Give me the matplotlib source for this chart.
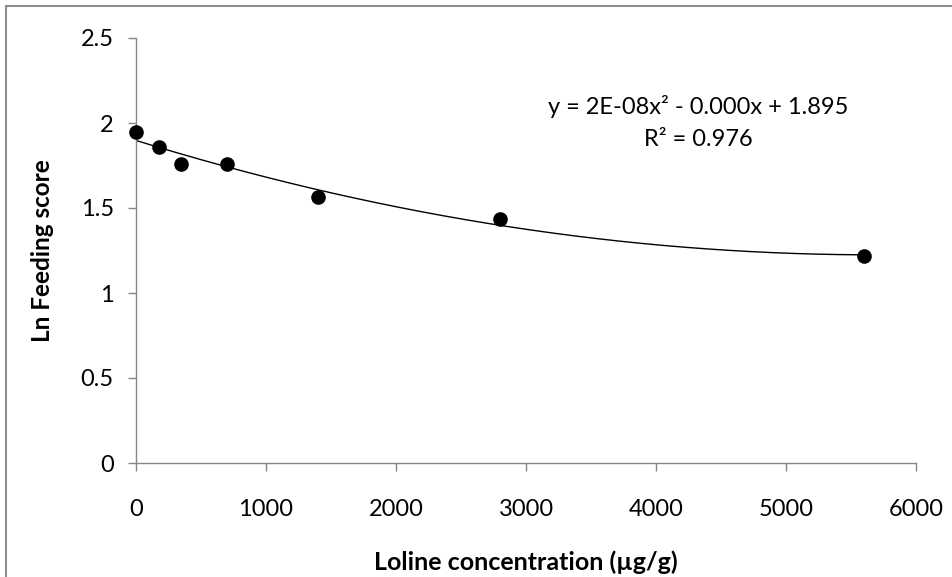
import numpy as np
import matplotlib
matplotlib.use("Agg")
import matplotlib.pyplot as plt
from matplotlib.patches import Rectangle

plt.rcParams['font.family'] = ['Lato', 'DejaVu Sans']

concentration = [0, 175, 350, 700, 1400, 2800, 5600]
ln_feeding = [1.947, 1.859, 1.759, 1.759, 1.567, 1.434, 1.218]
x_ticks = [0, 1000, 2000, 3000, 4000, 5000, 6000]
y_ticks = [0, 0.5, 1, 1.5, 2, 2.5]
equation_text = "y = 2E-08x² - 0.000x + 1.895"
r2_text = "R² = 0.976"

fig = plt.figure(figsize=(9.53, 5.77), dpi=100)
W, H = 953, 577
ax = fig.add_axes([136 / W, 1 - 463 / H, (916 - 136) / W, (463 - 38) / H])

# Outer frame (left and top edges visible)
fig.patches.append(Rectangle((6 / W, -0.1), 1.2, 1 - 6 / H + 0.1, transform=fig.transFigure,
                             fill=False, edgecolor='#8c8c8c', linewidth=1.5))

coef = np.polyfit(concentration, ln_feeding, 2)
xs = np.linspace(min(concentration), max(concentration), 200)
ax.plot(xs, np.polyval(coef, xs), color='black', linewidth=1.0, zorder=2)
ax.plot(concentration, ln_feeding, 'o', color='black', markersize=9.5, zorder=3, clip_on=False)

ax.set_xlim(0, 6000)
ax.set_ylim(0, 2.5)
ax.set_xticks(x_ticks)
ax.set_yticks(y_ticks)
ax.set_xticklabels([str(v) for v in x_ticks])
ax.set_yticklabels(['0', '0.5', '1', '1.5', '2', '2.5'])

for s in ['top', 'right']:
    ax.spines[s].set_visible(False)
for s in ['left', 'bottom']:
    ax.spines[s].set_color('#868686')
    ax.spines[s].set_linewidth(1.0)
ax.tick_params(axis='both', direction='out', length=6, width=1.0, color='#868686',
               labelsize=17, labelcolor='black')
ax.tick_params(axis='x', pad=20)
ax.tick_params(axis='y', pad=10)

ax.set_xlabel("Loline concentration (µg/g)", fontsize=18, fontweight='bold', labelpad=22)
ax.set_ylabel("Ln Feeding score", fontsize=17.5, fontweight='bold', labelpad=19)

fig.text(698 / W, 1 - 107 / H, equation_text, ha='center', va='center', fontsize=17)
fig.text(698 / W, 1 - 139 / H, r2_text, ha='center', va='center', fontsize=17)

fig.savefig("out.png", dpi=100)
